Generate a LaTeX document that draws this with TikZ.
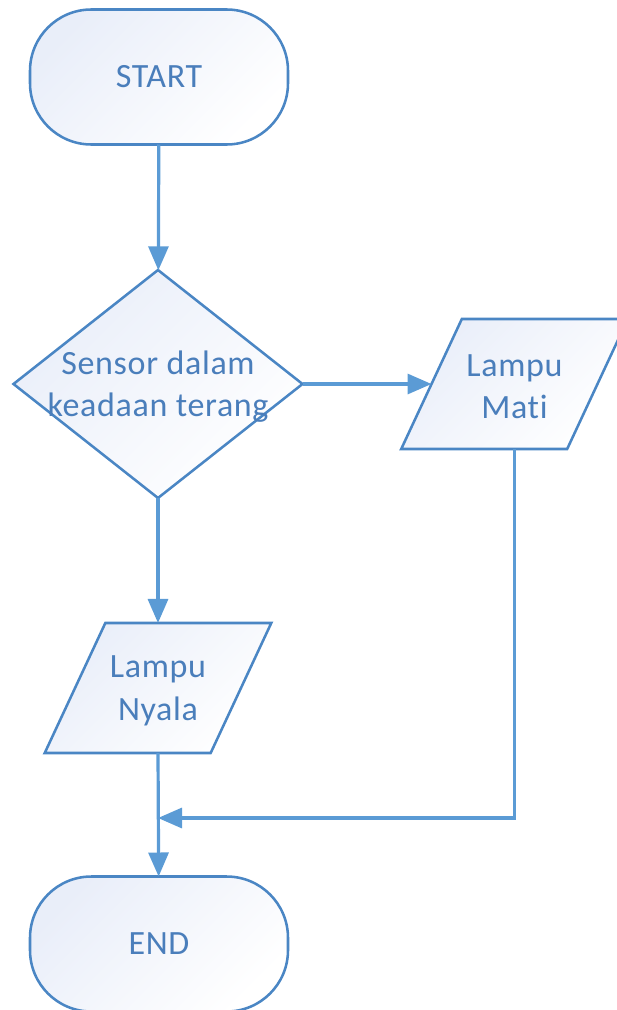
\documentclass[tikz,border=0pt]{standalone}
\usepackage{fontspec}
\setmainfont{Carlito}[Ligatures=NoCommon, LetterSpace=2]
\usetikzlibrary{arrows.meta, shapes.geometric}
\definecolor{fcline}{HTML}{4A86C4}
\definecolor{fcarrow}{HTML}{5B9BD5}
\definecolor{fctext}{HTML}{4A7EBB}
\definecolor{fcfill}{HTML}{E9EEF9}
\tikzset{
  fcbase/.style   = {draw=fcline, line width=1.9pt, inner sep=0pt, outer sep=0pt,
                     top color=fcfill, bottom color=white, shading angle=45},
  terminal/.style = {fcbase, rectangle, rounded corners=46pt,
                     minimum width=193.5pt, minimum height=101.25pt},
  decision/.style = {fcbase, diamond, minimum width=216.75pt, minimum height=171pt},
  inout/.style    = {fcbase, trapezium, trapezium left angle=65, trapezium right angle=115,
                     inner xsep=39.5pt, inner ysep=48.75pt},
  fctxt/.style    = {font=\fontsize{25.5}{32}\selectfont, text=fctext, align=center},
  flow/.style     = {-{Triangle[length=18pt, width=15pt]}, line width=2.4pt, draw=fcarrow},
}

\begin{document}
\begin{tikzpicture}[x=0.75pt, y=-0.75pt]
    \useasboundingbox (0,0) rectangle (617,1010);
    % shapes
    \node[terminal] (start) at (159,77)    {};
    \node[decision] (sensor) at (158,384)  {};
    \node[inout]    (mati) at (514.5,384)  {};
    \node[inout]    (nyala) at (158,688)   {};
    \node[terminal] (end) at (159,944)     {};
    \coordinate     (join) at (158,818);
    % texts
    \node[fctxt] (starttxt) at (start)  {START};
    \node[fctxt] (sensortxt) at ([yshift=-2pt]sensor) {Sensor dalam\\keadaan terang};
    \node[fctxt] (matitxt) at ([yshift=-2pt]mati)    {Lampu\\Mati};
    \node[fctxt] (nyalatxt) at ([yshift=-2pt]nyala)  {Lampu\\Nyala};
    \node[fctxt] (endtxt) at (end)      {END};
    % connectors
    \draw[flow] (start) -- (sensor);
    \draw[flow] (sensor) -- (mati);
    \draw[flow] (sensor) -- (nyala);
    \draw[flow] (nyala.south -| nyala.center) -- (end);
    \draw[flow] (mati.south -| mati.center) |- (join);
\end{tikzpicture}
\end{document}
